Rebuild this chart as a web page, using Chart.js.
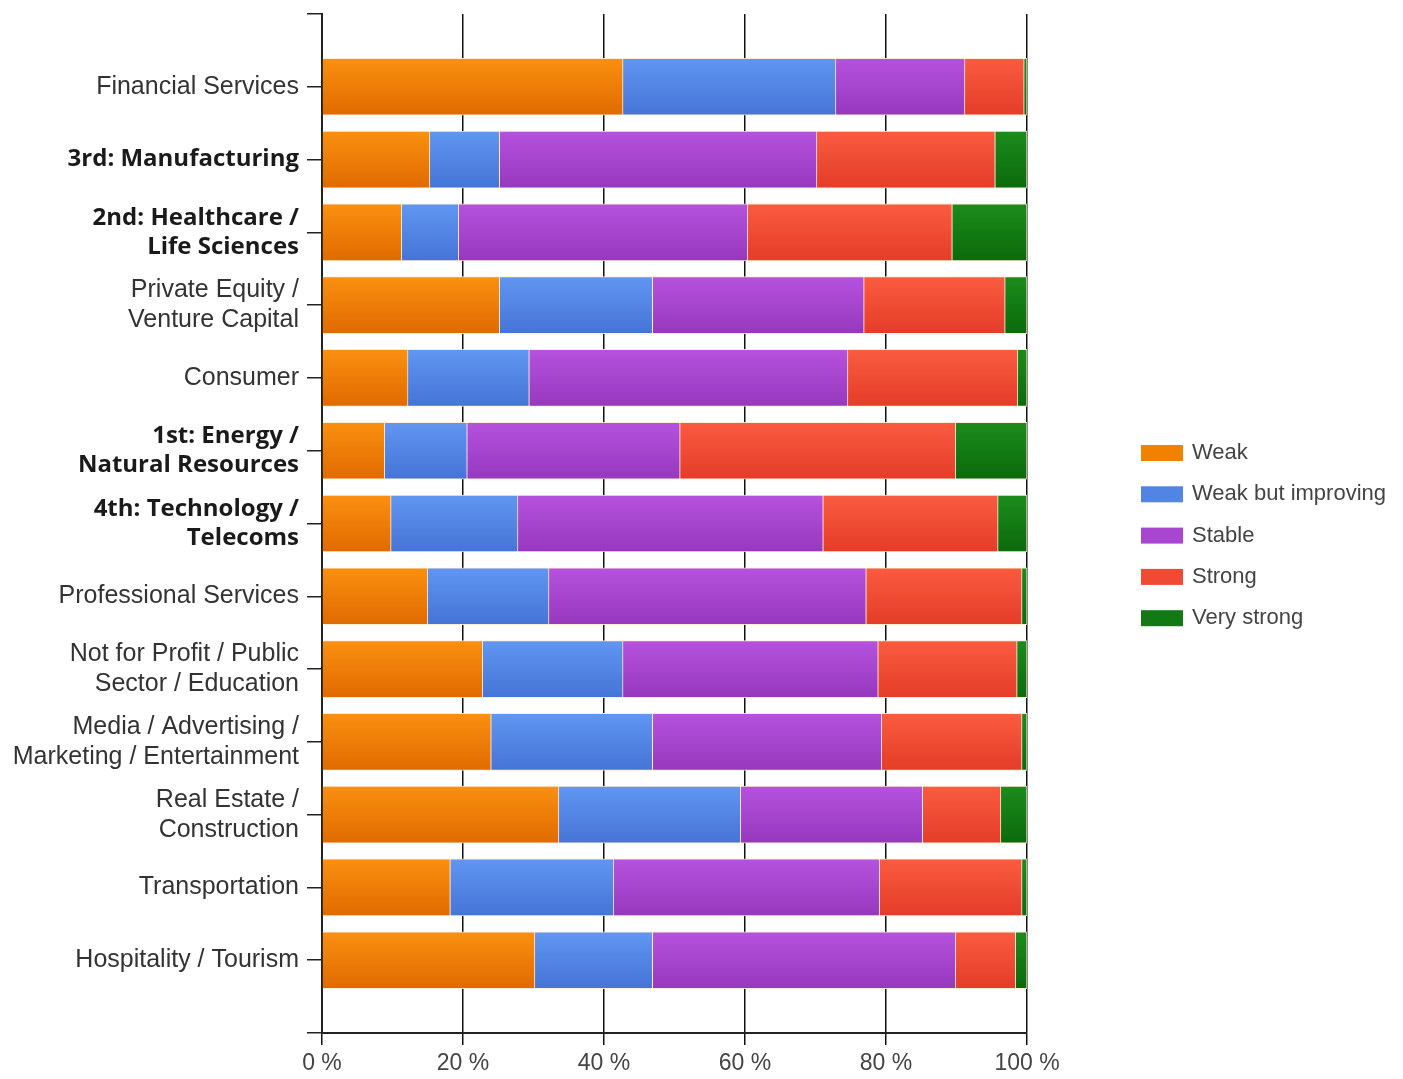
<!DOCTYPE html>
<html>
<head>
<meta charset="utf-8">
<script src="https://cdn.jsdelivr.net/npm/chart.js@4.4.1/dist/chart.umd.min.js"></script>
<style>
  html, body { margin: 0; padding: 0; background: #fff; }
  #wrap { width: 1403px; height: 1079px; }
</style>
</head>
<body>
<div id="wrap"><canvas id="sectorChart" width="1403" height="1079"></canvas></div>
<script>
// categories (top to bottom)
const categories = [
  'Financial Services',
  '3rd: Manufacturing',
  ['2nd: Healthcare /', 'Life Sciences'],
  ['Private Equity /', 'Venture Capital'],
  'Consumer',
  ['1st: Energy /', 'Natural Resources'],
  ['4th: Technology /', 'Telecoms'],
  'Professional Services',
  ['Not for Profit / Public', 'Sector / Education'],
  ['Media / Advertising /', 'Marketing / Entertainment'],
  ['Real Estate /', 'Construction'],
  'Transportation',
  'Hospitality / Tourism'
];
const boldRows = [1, 2, 5, 6]; // index in categories

// series values (% of respondents)
const weak        = [42.7, 15.3, 11.3, 25.2, 12.2,  8.9,  9.8, 15.0, 22.8, 24.0, 33.6, 18.2, 30.2];
const weakImprov  = [30.2,  9.9,  8.1, 21.7, 17.2, 11.7, 18.0, 17.2, 19.9, 22.9, 25.8, 23.2, 16.7];
const stable      = [18.3, 45.0, 41.0, 30.0, 45.2, 30.2, 43.3, 45.0, 36.2, 32.5, 25.8, 37.7, 43.0];
const strong      = [ 8.4, 25.3, 29.0, 20.0, 24.1, 39.1, 24.8, 22.1, 19.7, 19.9, 11.1, 20.2,  8.5];
const veryStrong  = [ 0.4,  4.5, 10.6,  3.1,  1.3, 10.1,  4.1,  0.7,  1.4,  0.7,  3.7,  0.7,  1.6];

const seriesNames = ['Weak', 'Weak but improving', 'Stable', 'Strong', 'Very strong'];
const xTicks = [0, 20, 40, 60, 80, 100];

// colours: [top, bottom, flat]
const palette = [
  ['#fa9010', '#e06a00', '#f08200'],
  ['#6196f2', '#4574d6', '#5284e4'],
  ['#b652de', '#9638be', '#a846d0'],
  ['#fa5c40', '#e43c28', '#f04a34'],
  ['#1c8c1c', '#0b6a0b', '#137a13']
];

// pad one empty slot above and below, like the original axis
const labels = [''].concat(categories, ['']);
const pad = arr => [null].concat(arr, [null]);
const BAR_H = 57;

function barFill(i) {
  return function(ctx) {
    const chart = ctx.chart;
    const yScale = chart.scales.y;
    if (!chart.chartArea || !yScale || ctx.dataIndex === undefined) return palette[i][2];
    const cy = yScale.getPixelForValue(ctx.dataIndex);
    const g = chart.ctx.createLinearGradient(0, cy - BAR_H / 2, 0, cy + BAR_H / 2);
    g.addColorStop(0, palette[i][0]);
    g.addColorStop(1, palette[i][1]);
    return g;
  };
}

const rawSeries = [weak, weakImprov, stable, strong, veryStrong];
const datasets = rawSeries.map((vals, i) => ({
  label: seriesNames[i],
  data: pad(vals),
  backgroundColor: barFill(i),
  borderColor: 'rgba(255,236,210,0.9)',
  borderWidth: 1,
  barThickness: BAR_H
}));

// legend drawn at the right, like the original
const sideLegend = {
  id: 'sideLegend',
  afterDraw(chart) {
    const c = chart.ctx;
    const x0 = 1141, y0 = 453, step = 41.3;
    c.save();
    c.font = '22px "Liberation Sans", Arial, sans-serif';
    c.textBaseline = 'middle';
    chart.data.datasets.forEach((ds, i) => {
      const y = y0 + i * step;
      c.fillStyle = palette[i][2];
      c.fillRect(x0, y - 8, 42, 16);
      c.fillStyle = '#444';
      c.fillText(ds.label, x0 + 51, y);
    });
    c.restore();
  }
};

const ctx = document.getElementById('sectorChart').getContext('2d');
const sectorChart = new Chart(ctx, {
  type: 'bar',
  data: { labels: labels, datasets: datasets },
  options: {
    indexAxis: 'y',
    responsive: false,
    animation: false,
    layout: { padding: { top: 14, right: 376, left: 0, bottom: 0 } },
    plugins: {
      legend: { display: false },
      tooltip: { enabled: false }
    },
    scales: {
      x: {
        stacked: true,
        min: 0,
        max: 100,
        afterBuildTicks: axis => { axis.ticks = xTicks.map(v => ({ value: v })); },
        afterFit: axis => { axis.height = 46; axis.paddingLeft = 0; axis.paddingRight = 0; },
        grid: { color: '#111', lineWidth: 1.5, tickLength: 12 },
        border: { color: '#222', width: 2 },
        ticks: {
          color: '#444',
          padding: 5,
          font: { family: '"Liberation Sans", Arial, sans-serif', size: 23 },
          callback: v => v + ' %'
        }
      },
      y: {
        stacked: true,
        offset: false,
        afterFit: axis => { axis.width = 322; axis.paddingTop = 0; axis.paddingBottom = 0; },
        grid: { offset: false, drawOnChartArea: false, color: '#222', tickLength: 15, lineWidth: 1.5 },
        border: { color: '#222', width: 2 },
        ticks: {
          autoSkip: false,
          padding: 8,
          color: c => boldRows.includes(c.index - 1) ? '#1a1a1a' : '#333',
          font: c => boldRows.includes(c.index - 1)
            ? { family: '"Open Sans", Lato, sans-serif', size: 24, weight: 'bold', lineHeight: 1.2 }
            : { family: '"Liberation Sans", Arial, sans-serif', size: 25, lineHeight: 1.2 }
        }
      }
    }
  },
  plugins: [sideLegend]
});
</script>
</body>
</html>
